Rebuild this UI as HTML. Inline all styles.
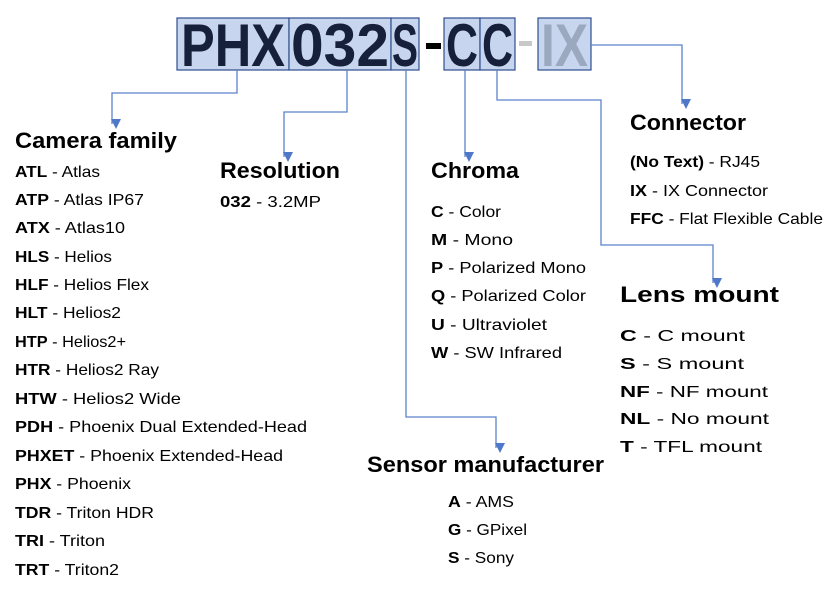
<!DOCTYPE html>
<html><head><meta charset="utf-8"><style>
html,body{margin:0;padding:0;background:#fff}
svg{display:block}
text{font-family:"Liberation Sans",sans-serif;fill:#000}
.h{font-weight:bold;font-size:22px}
.i{font-size:16px}
.b{font-weight:bold}
.big{font-weight:bold;font-size:60px;fill:#16203a}
</style></head><body>
<svg width="833" height="590" viewBox="0 0 833 590" xmlns="http://www.w3.org/2000/svg">
<defs><marker id="a" markerWidth="10" markerHeight="10" refX="5" refY="9" orient="auto" markerUnits="userSpaceOnUse" viewBox="0 0 10 10"><path d="M0,0 L10,0 L5,10 Z" fill="#4f78c8" transform="rotate(-90 5 5)"/></marker></defs>
<g fill="#c7d5ee" stroke="#2f4f8f" stroke-width="1.2">
<rect x="177" y="18" width="112" height="52"/><rect x="289" y="18" width="102" height="52"/><rect x="391" y="18" width="28" height="52"/>
<rect x="444" y="18" width="36" height="52"/><rect x="480" y="18" width="35" height="52"/><rect x="538" y="18" width="53" height="52"/>
</g>
<text class="big" x="181" y="66" textLength="104" lengthAdjust="spacingAndGlyphs">PHX</text>
<text class="big" x="291" y="66" textLength="98" lengthAdjust="spacingAndGlyphs">032</text>
<text class="big" x="392" y="66" textLength="26" lengthAdjust="spacingAndGlyphs">S</text>
<rect x="426" y="43" width="15" height="6" fill="#000"/>
<text class="big" x="446" y="66" textLength="32" lengthAdjust="spacingAndGlyphs">C</text>
<text class="big" x="482" y="66" textLength="31" lengthAdjust="spacingAndGlyphs">C</text>
<rect x="519" y="41" width="13" height="5" fill="#c8c8c8"/>
<text class="big" x="541" y="66" textLength="47" lengthAdjust="spacingAndGlyphs" style="fill:#9aa8c0">IX</text>
<g fill="none" stroke="#5a82cc" stroke-width="1.3">
<polyline points="237,70 237,93 112,93 112,124" marker-end="url(#a)"/>
<polyline points="347,70 347,112 284,112 284,157" marker-end="url(#a)"/>
<polyline points="406,70 406,417 496,417 496,448" marker-end="url(#a)"/>
<polyline points="465,70 465,157" marker-end="url(#a)"/>
<polyline points="497,70 497,100 601,100 601,245 713,245 713,283" marker-end="url(#a)"/>
<polyline points="591,45 682,45 682,104" marker-end="url(#a)"/>
</g>
<text class="h" x="15" y="148" textLength="162" lengthAdjust="spacingAndGlyphs">Camera family</text>
<g class="i">
<text x="15" y="177" textLength="85" lengthAdjust="spacingAndGlyphs"><tspan class="b">ATL</tspan> - Atlas</text>
<text x="15" y="205" textLength="129" lengthAdjust="spacingAndGlyphs"><tspan class="b">ATP</tspan> - Atlas IP67</text>
<text x="15" y="233" textLength="110" lengthAdjust="spacingAndGlyphs"><tspan class="b">ATX</tspan> - Atlas10</text>
<text x="15" y="262" textLength="97" lengthAdjust="spacingAndGlyphs"><tspan class="b">HLS</tspan> - Helios</text>
<text x="15" y="290" textLength="134" lengthAdjust="spacingAndGlyphs"><tspan class="b">HLF</tspan> - Helios Flex</text>
<text x="15" y="318" textLength="106" lengthAdjust="spacingAndGlyphs"><tspan class="b">HLT</tspan> - Helios2</text>
<text x="15" y="347" textLength="111" lengthAdjust="spacingAndGlyphs"><tspan class="b">HTP</tspan> - Helios2+</text>
<text x="15" y="375" textLength="144" lengthAdjust="spacingAndGlyphs"><tspan class="b">HTR</tspan> - Helios2 Ray</text>
<text x="15" y="404" textLength="166" lengthAdjust="spacingAndGlyphs"><tspan class="b">HTW</tspan> - Helios2 Wide</text>
<text x="15" y="432" textLength="292" lengthAdjust="spacingAndGlyphs"><tspan class="b">PDH</tspan> - Phoenix Dual Extended-Head</text>
<text x="15" y="461" textLength="268" lengthAdjust="spacingAndGlyphs"><tspan class="b">PHXET</tspan> - Phoenix Extended-Head</text>
<text x="15" y="489" textLength="116" lengthAdjust="spacingAndGlyphs"><tspan class="b">PHX</tspan> - Phoenix</text>
<text x="15" y="518" textLength="139" lengthAdjust="spacingAndGlyphs"><tspan class="b">TDR</tspan> - Triton HDR</text>
<text x="15" y="546" textLength="90" lengthAdjust="spacingAndGlyphs"><tspan class="b">TRI</tspan> - Triton</text>
<text x="15" y="575" textLength="104" lengthAdjust="spacingAndGlyphs"><tspan class="b">TRT</tspan> - Triton2</text>
</g>
<text class="h" x="220" y="178" textLength="120" lengthAdjust="spacingAndGlyphs">Resolution</text>
<text class="i" x="220" y="207" textLength="101" lengthAdjust="spacingAndGlyphs"><tspan class="b">032</tspan> - 3.2MP</text>
<text class="h" x="431" y="178" textLength="88" lengthAdjust="spacingAndGlyphs">Chroma</text>
<g class="i">
<text x="431" y="217" textLength="70" lengthAdjust="spacingAndGlyphs"><tspan class="b">C</tspan> - Color</text>
<text x="431" y="245" textLength="82" lengthAdjust="spacingAndGlyphs"><tspan class="b">M</tspan> - Mono</text>
<text x="431" y="273" textLength="155" lengthAdjust="spacingAndGlyphs"><tspan class="b">P</tspan> - Polarized Mono</text>
<text x="431" y="301" textLength="155" lengthAdjust="spacingAndGlyphs"><tspan class="b">Q</tspan> - Polarized Color</text>
<text x="431" y="330" textLength="116" lengthAdjust="spacingAndGlyphs"><tspan class="b">U</tspan> - Ultraviolet</text>
<text x="431" y="358" textLength="131" lengthAdjust="spacingAndGlyphs"><tspan class="b">W</tspan> - SW Infrared</text>
</g>
<text class="h" x="630" y="130" textLength="116" lengthAdjust="spacingAndGlyphs">Connector</text>
<g class="i">
<text x="630" y="167" textLength="130" lengthAdjust="spacingAndGlyphs"><tspan class="b">(No Text)</tspan> - RJ45</text>
<text x="630" y="196" textLength="138" lengthAdjust="spacingAndGlyphs"><tspan class="b">IX</tspan> - IX Connector</text>
<text x="630" y="224" textLength="193" lengthAdjust="spacingAndGlyphs"><tspan class="b">FFC</tspan> - Flat Flexible Cable</text>
</g>
<text class="h" x="620" y="302" textLength="159" lengthAdjust="spacingAndGlyphs">Lens mount</text>
<g class="i">
<text x="620" y="341" textLength="125" lengthAdjust="spacingAndGlyphs"><tspan class="b">C</tspan> - C mount</text>
<text x="620" y="369" textLength="124" lengthAdjust="spacingAndGlyphs"><tspan class="b">S</tspan> - S mount</text>
<text x="620" y="397" textLength="148" lengthAdjust="spacingAndGlyphs"><tspan class="b">NF</tspan> - NF mount</text>
<text x="620" y="424" textLength="149" lengthAdjust="spacingAndGlyphs"><tspan class="b">NL</tspan> - No mount</text>
<text x="620" y="452" textLength="142" lengthAdjust="spacingAndGlyphs"><tspan class="b">T</tspan> - TFL mount</text>
</g>
<text class="h" x="367" y="472" textLength="237" lengthAdjust="spacingAndGlyphs">Sensor manufacturer</text>
<g class="i">
<text x="448" y="507" textLength="66" lengthAdjust="spacingAndGlyphs"><tspan class="b">A</tspan> - AMS</text>
<text x="448" y="535" textLength="79" lengthAdjust="spacingAndGlyphs"><tspan class="b">G</tspan> - GPixel</text>
<text x="448" y="563" textLength="66" lengthAdjust="spacingAndGlyphs"><tspan class="b">S</tspan> - Sony</text>
</g>
</svg>
</body></html>
